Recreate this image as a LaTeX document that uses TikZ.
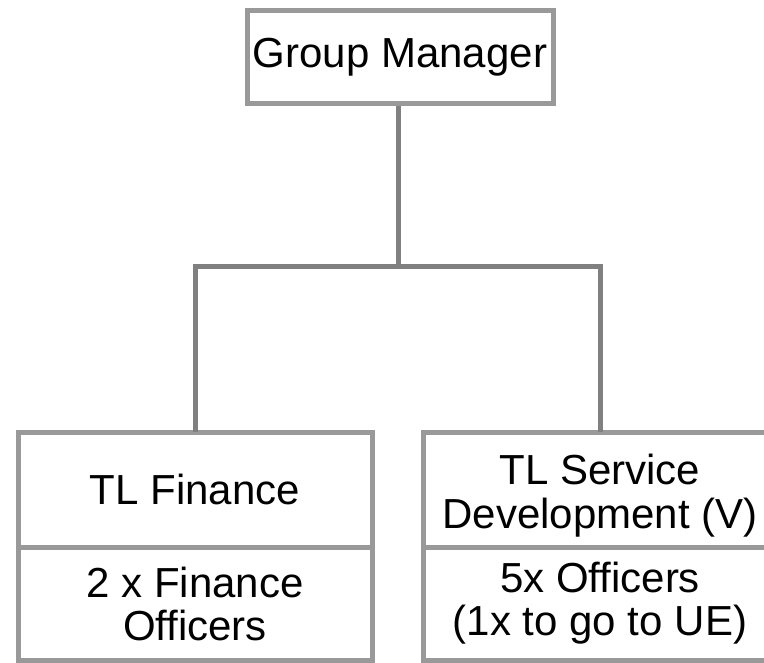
\documentclass[tikz,border=0pt]{standalone}
\usepackage{fontspec}
\setmainfont{Liberation Sans}
\definecolor{boxgray}{RGB}{153,153,153}
\definecolor{linegray}{RGB}{128,128,128}
\tikzset{
  orgbox/.style={draw=boxgray, line width=5pt, fill=white, align=center, inner sep=0pt,
    font=\fontsize{42}{43}\selectfont},
  lbl/.style={align=center, inner sep=0pt, font=\fontsize{42}{44}\selectfont},
  conn/.style={draw=linegray, line width=5pt}
}
\begin{document}
\begin{tikzpicture}[x=1pt,y=-1pt]
\useasboundingbox (0,0) rectangle (764,663);
\fill[white] (0,0) rectangle (764,663);
\node[orgbox, minimum width=306pt, minimum height=93pt] (top) at (400,57) {Group Manager};
\node[orgbox, minimum width=354pt, minimum height=115pt] (lt) at (195,489.5) {TL Finance};
\node[orgbox, minimum width=354pt, minimum height=113pt] (lb) at (195,603.5) {2 x Finance\\Officers};
\node[orgbox, minimum width=354pt, minimum height=115pt] (rt) at (600,489.5) {};
\node[lbl] (rttext) at (600,496) {TL Service\\Development (V)};
\node[orgbox, minimum width=354pt, minimum height=113pt] (rb) at (600,603.5) {5x Officers\\(1x to go to UE)};
\coordinate (j) at (398,267);
\draw[conn] (top.south -| j) -- (j);
\draw[conn] (j) -| ([yshift=-2.5pt]lt.north);
\draw[conn] (j) -| ([yshift=-2.5pt]rt.north);
\end{tikzpicture}
\end{document}
